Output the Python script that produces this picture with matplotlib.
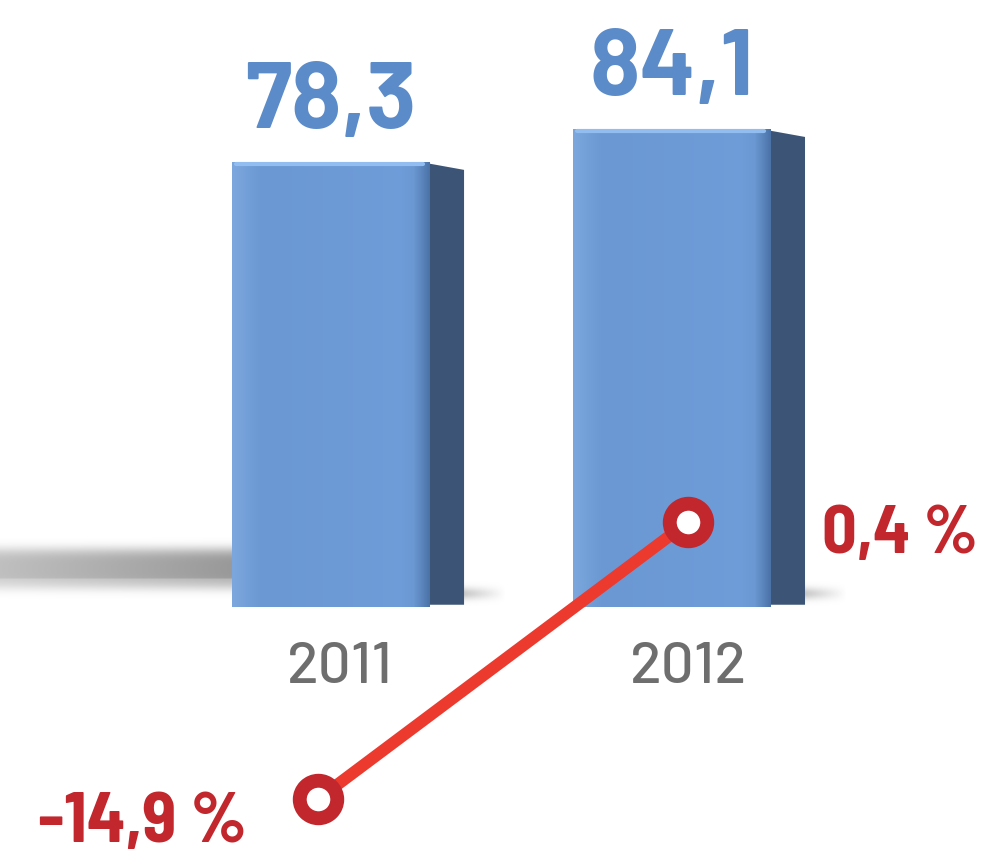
import numpy as np
import matplotlib
matplotlib.use('Agg')
import matplotlib.pyplot as plt
from matplotlib import font_manager

# data
years = ['2011', '2012']
values = [78.3, 84.1]
value_labels = ['78,3', '84,1']
change = [-14.9, 0.4]
change_labels = ['-14,9 %', '0,4 %']

installed = {f.name for f in font_manager.fontManager.ttflist}


def pick(*names):
    for n in names:
        if n in installed:
            return n
    return 'DejaVu Sans'


FONT_N = pick('Barlow Semi Condensed', 'Roboto Condensed', 'Archivo Narrow',
              'PT Sans Narrow', 'Liberation Sans Narrow', 'Roboto')
FONT_W = pick('Barlow', 'Roboto', 'Liberation Sans')

BLUE_L = np.array([0x7c, 0xa7, 0xde]) / 255
BLUE_M = np.array([0x6b, 0x98, 0xd2]) / 255
BLUE_D = np.array([0x4c, 0x73, 0xa8]) / 255
SIDE = '#3c5577'
LBL_BLUE = '#5b8bc8'
RED_LINE = '#ec3a2e'
RED_DARK = '#c1272d'
GRAY = '#6e6e6e'

fig = plt.figure(figsize=(9.83, 8.54), dpi=100)
ax = fig.add_axes([0, 0, 1, 1])
ax.set_xlim(-0.971, 1.912)
ax.set_ylim(-43.33, 107.1)
ax.axis('off')

x = np.arange(len(years))
w = 0.58
d = 0.1

# soft floor shadow left of the first bar
ny, nx = 80, 300
yy = np.linspace(-1, 1, ny)[:, None]
xx = np.linspace(0, 1, nx)[None, :]
shadow = np.zeros((ny, nx, 4))
shadow[..., :3] = 0.5
shadow[..., 3] = np.exp(-(yy / 0.62) ** 4) * (0.5 + 0.3 * xx) * (0.75 + 0.25 * (yy < 0.3))
ax.imshow(shadow, extent=(-0.971, x[0] - w / 2, 0.8, 12.5), aspect='auto', zorder=1,
          interpolation='bilinear')
# small shadows behind the bars' right side
for xi in x:
    sm = np.zeros((30, 60, 4))
    sm[..., :3] = 0.55
    sm[..., 3] = np.exp(-(np.linspace(-1, 1, 30)[:, None] / 0.5) ** 2) * np.linspace(0.5, 0, 60)[None, :]
    ax.imshow(sm, extent=(xi + w / 2 + d - 0.01, xi + w / 2 + d + 0.12, 0.2, 4.5),
              aspect='auto', zorder=1, interpolation='bilinear')

# side faces (depth)
for xi, v in zip(x, values):
    ax.fill([xi + w / 2 - 0.02, xi + w / 2 + d, xi + w / 2 + d, xi + w / 2 - 0.02],
            [0.4, 0.4, v - 1.3, v], color=SIDE, zorder=2, lw=0)

# front faces with horizontal shading
bars = ax.bar(x, values, width=w, color=BLUE_M, zorder=3)
t = np.linspace(0, 1, 200)
col = np.empty((1, 200, 3))
for k in range(3):
    col[0, :, k] = np.interp(t, [0, 0.15, 0.85, 0.92, 1.0],
                             [BLUE_L[k], BLUE_M[k], BLUE_M[k] * 1.03, BLUE_M[k], BLUE_D[k]])
col = np.clip(col, 0, 1)
for b in bars:
    ax.imshow(col, extent=(b.get_x(), b.get_x() + b.get_width(), 0, b.get_height()),
              aspect='auto', zorder=3.5, interpolation='bilinear')
    ax.plot([b.get_x() + 0.01, b.get_x() + b.get_width() - 0.02],
            [b.get_height() - 0.3] * 2, color='#92bdf0', lw=3, zorder=4,
            solid_capstyle='round')

# value labels
for xi, v, s in zip(x, values, value_labels):
    ax.text(xi, v + 6.3, s, ha='center', va='baseline', fontsize=67, fontweight='bold',
            color=LBL_BLUE, family=FONT_W)

# year labels
for xi, s, off in zip(x, years, [0.025, 0.047]):
    ax.text(xi + off, -13.2, s, ha='center', va='baseline', fontsize=42,
            fontweight='medium', color=GRAY, family=FONT_W)

# change line on secondary axis
ax2 = fig.add_axes([0, 0, 1, 1])
ax2.set_xlim(ax.get_xlim())
ax2.set_ylim(-17.88, 29.3)
ax2.axis('off')
ax2.patch.set_alpha(0)
lx = x + np.array([-0.038, 0.047])
ax2.plot(lx, change, color=RED_LINE, lw=8.6, zorder=5, solid_capstyle='butt')
ax2.plot(lx, change, 'o', ms=27, mfc='white', mec=RED_DARK, mew=10, zorder=6)
ax2.text(-0.246, -17.2, change_labels[0], ha='right', va='baseline',
         fontsize=51, fontweight='bold', color=RED_DARK, family=FONT_N)
ax2.text(1.44, -1.26, change_labels[1], ha='left', va='baseline',
         fontsize=49, fontweight='bold', color=RED_DARK, family=FONT_N)

fig.savefig('out.png', dpi=100)
